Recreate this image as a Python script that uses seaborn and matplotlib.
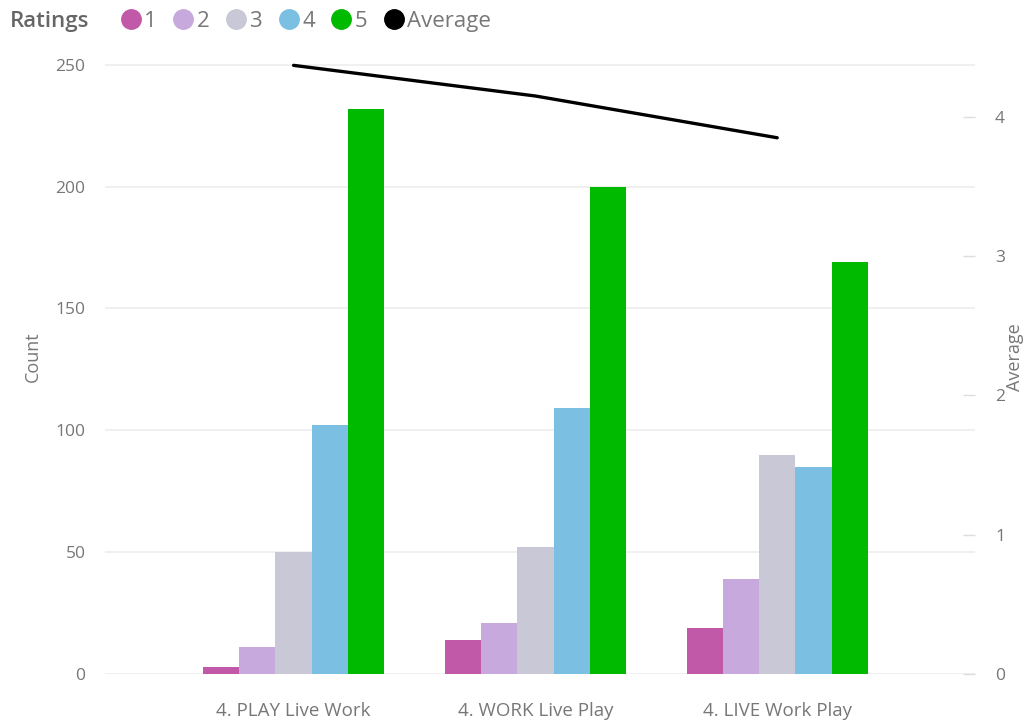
import matplotlib.pyplot as plt
import matplotlib.lines as mlines
import seaborn as sns
import pandas as pd

categories = ['4. PLAY Live Work', '4. WORK Live Play', '4. LIVE Work Play']
ratings = ['1', '2', '3', '4', '5']
count_1 = [3, 14, 19]
count_2 = [11, 21, 39]
count_3 = [50, 52, 90]
count_4 = [102, 109, 85]
count_5 = [232, 200, 169]
average = [4.37, 4.15, 3.85]

colors = ['#C158A8', '#C8A9DE', '#C8C8D6', '#7BBFE3', '#00BA00']
TEXT = '#777777'
GRID = '#EDEDED'

rows = []
for r, vals in zip(ratings, [count_1, count_2, count_3, count_4, count_5]):
    for c, v in zip(categories, vals):
        rows.append({'Category': c, 'Rating': r, 'Count': v})
df = pd.DataFrame(rows)

sns.set_style('white')
plt.rcParams['font.family'] = ['Open Sans', 'DejaVu Sans']

fig = plt.figure(figsize=(10.29, 7.23), dpi=100)
ax = fig.add_axes([0.102, 0.068, 0.846, 0.876])

sns.barplot(data=df, x='Category', y='Count', hue='Rating', order=categories,
            hue_order=ratings, palette=colors, width=0.75, saturation=1,
            linewidth=0, ax=ax, legend=False)

ax.set_xlim(-0.78, 2.82)
ax.set_ylim(0, 260)
ax.set_yticks([0, 50, 100, 150, 200, 250])
ax.grid(axis='y', color=GRID, linewidth=1.2)
ax.set_axisbelow(True)
for s in ax.spines.values():
    s.set_visible(False)
ax.tick_params(axis='y', length=0, pad=14, labelsize=12.5, labelcolor=TEXT)
ax.tick_params(axis='x', length=0, pad=20, labelsize=13.5, labelcolor=TEXT)
ax.set_xlabel('')
ax.set_ylabel('Count', color=TEXT, fontsize=13, labelpad=10)

ax2 = ax.twinx()
sns.lineplot(x=[0, 1, 2], y=average, color='black', linewidth=2.4, ax=ax2)
ax2.set_ylim(0, 260 / 57.16)
ax2.set_yticks([0, 1, 2, 3, 4])
for s in ax2.spines.values():
    s.set_visible(False)
ax2.tick_params(axis='y', direction='in', length=9, width=1, color='#DDDDDD',
                pad=14, labelsize=12.5, labelcolor=TEXT)
ax2.set_ylabel('Average', color=TEXT, fontsize=13, labelpad=1)
ax2.set_xlim(-0.78, 2.82)

# legend row along the top
fig.text(0.010, 0.970, 'Ratings', color='#666666', fontsize=16, va='center',
         fontweight='semibold')
handles = [mlines.Line2D([], [], marker='o', linestyle='', markersize=14,
                         markerfacecolor=c, markeredgecolor=c) for c in colors]
handles.append(mlines.Line2D([], [], marker='o', linestyle='', markersize=14,
                             markerfacecolor='black', markeredgecolor='black'))
fig.legend(handles, ratings + ['Average'], loc='center left',
           bbox_to_anchor=(0.101, 0.970), ncol=6, frameon=False,
           handletextpad=-0.1, columnspacing=0.5, fontsize=16,
           labelcolor=TEXT, borderpad=0, handlelength=1.4)

fig.savefig('out.png', dpi=100)
